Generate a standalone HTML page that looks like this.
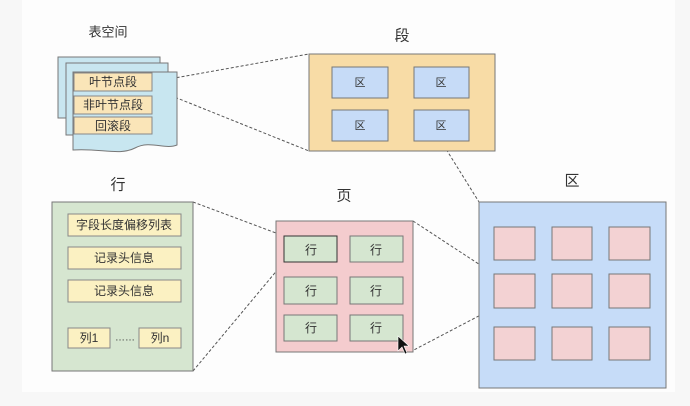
<!DOCTYPE html>
<html><head><meta charset="utf-8"><style>
html,body{margin:0;padding:0;background:#f7f7f7;}
svg{display:block;}
text{font-family:"Liberation Sans","Noto Sans CJK SC",sans-serif;fill:#333;text-anchor:middle;dominant-baseline:central;}
</style></head><body>
<svg width="690" height="406" viewBox="0 0 690 406" xmlns="http://www.w3.org/2000/svg">
<rect x="0" y="0" width="690" height="406" fill="#f7f7f7"/>
<rect x="22" y="0" width="653" height="392" fill="#fdfdfd"/>
<g stroke="#555" stroke-width="1" stroke-dasharray="3,2" fill="none">
<line x1="152" y1="82" x2="309" y2="54"/>
<line x1="152" y1="88" x2="309" y2="151"/>
<line x1="441" y1="141" x2="479" y2="202"/>
<line x1="193" y1="202" x2="284" y2="236"/>
<line x1="193" y1="371" x2="284" y2="262"/>
<line x1="413" y1="221" x2="494" y2="274"/>
<line x1="410" y1="352" x2="494" y2="308"/>
</g>
<text x="108" y="32" font-size="13">表空间</text>
<g fill="#c8e6f0" stroke="#777">
<path d="M58,57 H160 V118 H58 Z"/>
<path d="M66,63 H168 V135 H66 Z"/>
<path d="M73,72 H177 V145 C165,150 150,140 135,148 C120,156 100,148 73,150 Z"/>
</g>
<g fill="#fae5b8" stroke="#888">
<rect x="74" y="73" width="78" height="18"/>
<rect x="74" y="96" width="78" height="18"/>
<rect x="74" y="117" width="78" height="17"/>
</g>
<text x="113" y="82" font-size="12">叶节点段</text>
<text x="113" y="105" font-size="12">非叶节点段</text>
<text x="113" y="126" font-size="12">回滚段</text>

<text x="402" y="36" font-size="15">段</text>
<rect x="309" y="54" width="186" height="97" fill="#f8dca6" stroke="#777"/>
<g fill="#c6dbf7" stroke="#777">
<rect x="332" y="67" width="56" height="31"/><rect x="414" y="67" width="55" height="31"/>
<rect x="332" y="110" width="56" height="31"/><rect x="414" y="110" width="55" height="31"/>
</g>
<text x="360" y="83" font-size="11">区</text><text x="441" y="83" font-size="11">区</text>
<text x="360" y="126" font-size="11">区</text><text x="441" y="126" font-size="11">区</text>

<text x="572" y="181" font-size="15">区</text>
<rect x="479" y="202" width="187" height="186" fill="#c6dcf8" stroke="#777"/>
<g fill="#f3d2d3" stroke="#777">
<rect x="494" y="227" width="41" height="33"/><rect x="552" y="227" width="40" height="33"/><rect x="609" y="227" width="41" height="33"/>
<rect x="494" y="274" width="41" height="34"/><rect x="552" y="274" width="40" height="34"/><rect x="609" y="274" width="41" height="34"/>
<rect x="494" y="327" width="41" height="33"/><rect x="552" y="327" width="40" height="33"/><rect x="609" y="327" width="41" height="33"/>
</g>

<text x="344" y="196" font-size="15">页</text>
<rect x="276" y="221" width="137" height="131" fill="#f4ccce" stroke="#777"/>
<g fill="#d5e6d0" stroke="#777">
<rect x="284" y="236" width="53" height="26" stroke="#333"/><rect x="350" y="236" width="53" height="26"/>
<rect x="284" y="277" width="53" height="27"/><rect x="350" y="277" width="53" height="27"/>
<rect x="284" y="315" width="53" height="26"/><rect x="350" y="315" width="53" height="26"/>
</g>
<g font-size="12">
<text x="311" y="250">行</text><text x="376" y="250">行</text>
<text x="311" y="291">行</text><text x="376" y="291">行</text>
<text x="311" y="328">行</text><text x="376" y="328">行</text>
</g>

<text x="118" y="185" font-size="15">行</text>
<rect x="52" y="202" width="141" height="169" fill="#d6e6d0" stroke="#777"/>
<g fill="#fbf1c2" stroke="#888">
<rect x="68" y="214" width="113" height="22"/>
<rect x="68" y="247" width="113" height="22"/>
<rect x="68" y="280" width="113" height="22"/>
<rect x="68" y="328" width="42" height="20"/>
<rect x="139" y="328" width="42" height="20"/>
</g>
<g font-size="12">
<text x="124" y="225">字段长度偏移列表</text>
<text x="124" y="258">记录头信息</text>
<text x="124" y="291">记录头信息</text>
<text x="89" y="338">列1</text>
<text x="125" y="338" font-size="10">……</text>
<text x="160" y="338">列n</text>
</g>
<path d="M398,336 L398,351 L402,347 L405,354 L407,353 L404,346 L409,346 Z" fill="#111" stroke="#fff" stroke-width="0.6"/>
</svg>
</body></html>
